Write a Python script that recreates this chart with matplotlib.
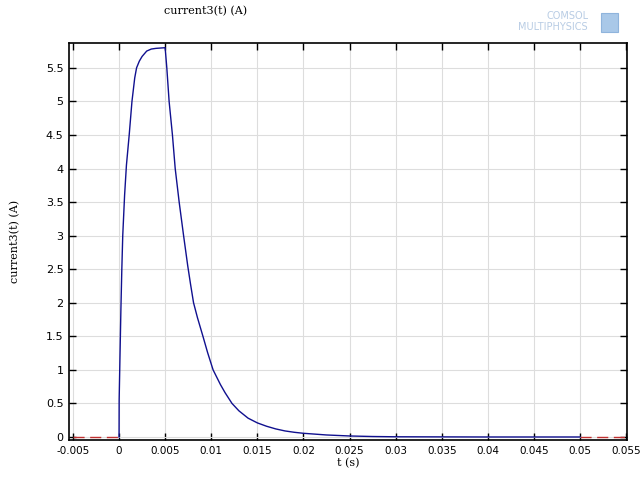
import matplotlib
matplotlib.use("Agg")
import matplotlib.pyplot as plt
from matplotlib.patches import Rectangle

# current vs time
t_vals = [0.0, 0.00001, 0.0001, 0.0002, 0.0003, 0.0004, 0.0005, 0.0006,
          0.0008, 0.0011, 0.0014, 0.0017, 0.0019, 0.0022, 0.0025, 0.003,
          0.0035, 0.004, 0.005,
          0.00518, 0.00543, 0.00579, 0.00609, 0.00652, 0.00700, 0.00745,
          0.00775, 0.00808, 0.0085, 0.0091, 0.0096, 0.0102, 0.011, 0.0115,
          0.01225, 0.013, 0.014, 0.015, 0.016, 0.017, 0.018, 0.019,
          0.020, 0.0225, 0.025, 0.0275, 0.030, 0.040, 0.050]
i_vals = [0.0, 0.55, 1.2, 1.9, 2.5, 3.0, 3.3, 3.6,
          4.05, 4.5, 5.0, 5.35, 5.5, 5.6, 5.67, 5.75,
          5.78, 5.79, 5.8,
          5.5, 5.0, 4.5, 4.0, 3.5, 3.0, 2.55,
          2.28, 2.0, 1.78, 1.5, 1.26, 1.0, 0.78, 0.66,
          0.5, 0.39, 0.28, 0.21, 0.16, 0.12, 0.09, 0.07,
          0.055, 0.03, 0.015, 0.007, 0.003, 0.0, 0.0]

# zero segments outside the simulated interval (red dashed)
pre_t = [-0.005, 0.0]
post_t = [0.05, 0.055]

x_ticks = [-0.005, 0, 0.005, 0.01, 0.015, 0.02, 0.025, 0.03, 0.035,
           0.04, 0.045, 0.05, 0.055]
x_labels = ["-0.005", "0", "0.005", "0.01", "0.015", "0.02", "0.025",
            "0.03", "0.035", "0.04", "0.045", "0.05", "0.055"]
y_ticks = [0, 0.5, 1, 1.5, 2, 2.5, 3, 3.5, 4, 4.5, 5, 5.5]
y_labels = ["0", "0.5", "1", "1.5", "2", "2.5", "3", "3.5", "4", "4.5", "5", "5.5"]

plt.rcParams['font.family'] = ['DejaVu Sans']

fig = plt.figure(figsize=(6.4, 4.8), dpi=100)
ax = fig.add_axes([69 / 640, 1 - 440 / 480, 558 / 640, 397 / 480])

ax.plot(pre_t, [0, 0], color='#c03030', linestyle=(0, (8, 4)), linewidth=1)
ax.plot(post_t, [0, 0], color='#c03030', linestyle=(0, (8, 4)), linewidth=1)
ax.plot(t_vals, i_vals, color='#10108f', linewidth=1)

ax.set_xlim(-0.00543, 0.0551)
ax.set_ylim(-0.045, 5.87)
ax.set_xticks(x_ticks)
ax.set_xticklabels(x_labels, fontsize=7.5)
ax.set_yticks(y_ticks)
ax.set_yticklabels(y_labels, fontsize=8)
ax.tick_params(direction='in', top=True, right=True, length=5, width=1, pad=4)
ax.grid(color='#dddddd', linewidth=0.8)
ax.set_axisbelow(True)
for s in ax.spines.values():
    s.set_linewidth(1.2)

ax.set_xlabel("t (s)", fontsize=8, labelpad=2, family='DejaVu Serif')
ax.set_ylabel("current3(t) (A)", fontsize=8, labelpad=18, family='DejaVu Serif')
fig.text(206 / 640, 1 - 11 / 480, "current3(t) (A)", fontsize=8,
         ha='center', va='center', family='DejaVu Serif')

# logo in the corner
fig.text(568 / 640, 1 - 16 / 480, "COMSOL", fontsize=7, color='#b8cce4',
         ha='center', va='center')
fig.text(553 / 640, 1 - 27 / 480, "MULTIPHYSICS", fontsize=7, color='#b8cce4',
         ha='center', va='center')
fig.patches.append(Rectangle((601 / 640, 1 - 32 / 480), 17 / 640, 19 / 480,
                             transform=fig.transFigure, facecolor='#a9c8e8',
                             edgecolor='#8fb4dc', linewidth=0.8))

fig.savefig("out.png", dpi=100, facecolor='white')
